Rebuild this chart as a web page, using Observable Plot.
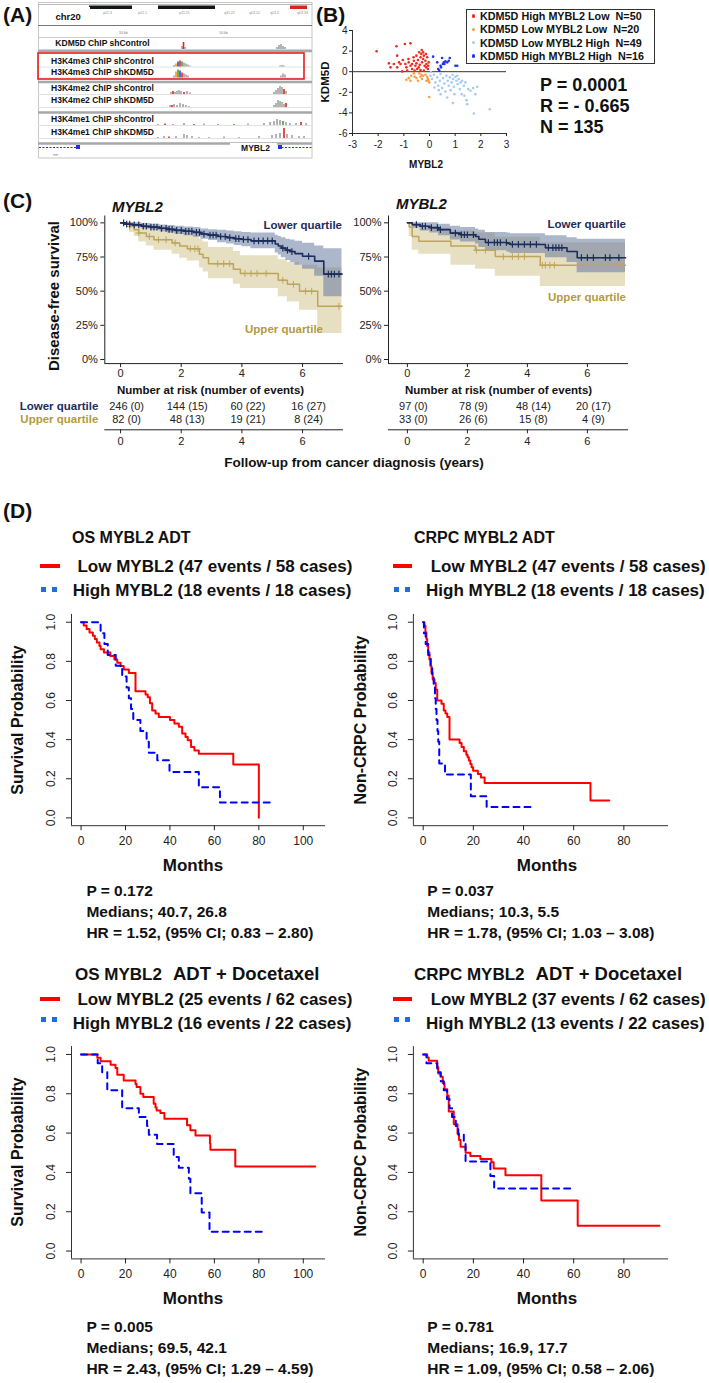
<!DOCTYPE html>
<html><head><meta charset="utf-8">
<script src="https://cdn.jsdelivr.net/npm/d3@7"></script>
<script src="https://cdn.jsdelivr.net/npm/@observablehq/plot@0.6"></script>
<style>
html,body{margin:0;padding:0;background:#fff;}
#root{position:relative;width:709px;height:1383px;overflow:hidden;background:#fff;font-family:"Liberation Sans",Arial,Helvetica,sans-serif;color:#111;}
.t{position:absolute;white-space:pre;line-height:1;}
</style></head><body><div id="root"></div>
<script>
// ---------------- DATA ----------------
// Panel A (genome browser tracks)
const aTracks = ["KDM5D ChIP shControl","H3K4me3 ChIP shControl","H3K4me3 ChIP shKDM5D","H3K4me2 ChIP shControl","H3K4me2 ChIP shKDM5D","H3K4me1 ChIP shControl","H3K4me1 ChIP shKDM5D"];
const aPeaks = [ // [track, position, height, colour key]
 [0,144,3,"k"],[0,145.5,7,"r"],[0,147,2,"k"],[0,239,2,"k"],[0,241,4,"k"],[0,243,5,"k"],[0,245,3,"k"],[0,247,2,"k"],
 [1,136,1.5,"k"],[1,138,3,"o"],[1,140,5,"b"],[1,142,6,"r"],[1,144,5,"g"],[1,146,4,"k"],[1,148,3,"k"],[1,150,2,"k"],[1,152,1,"k"],[1,242,1,"k"],[1,244,1.5,"k"],[1,246,1,"k"],
 [2,136,2,"k"],[2,138,6,"o"],[2,140,8,"g"],[2,142,7,"b"],[2,144,5,"r"],[2,146,4,"k"],[2,148,3,"k"],[2,150,2,"k"],[2,243,2,"k"],[2,245,4,"k"],[2,247,3,"k"],
 [3,133,2,"k"],[3,135,3,"r"],[3,137,2,"k"],[3,139,3,"k"],[3,141,4,"k"],[3,143,3,"k"],[3,146,2,"r"],[3,149,3,"k"],[3,152,1.5,"k"],[3,236,2,"k"],[3,238,4,"k"],[3,240,6,"k"],[3,242,8,"k"],[3,244,7,"k"],[3,246,5,"r"],[3,248,3,"k"],
 [4,132,2,"k"],[4,134,2,"r"],[4,136,3,"k"],[4,139,2,"k"],[4,142,4,"k"],[4,145,3,"k"],[4,148,2,"k"],[4,151,1,"k"],[4,236,2,"k"],[4,238,4,"k"],[4,240,7,"k"],[4,242,6,"k"],[4,244,5,"k"],[4,246,3,"k"],[4,248,4,"r"],
 [5,120,1,"k"],[5,127,1.5,"r"],[5,135,1,"k"],[5,146,2,"k"],[5,156,1,"r"],[5,166,1.5,"k"],[5,180,1,"k"],[5,196,1,"g"],[5,210,1.5,"k"],[5,226,2,"k"],[5,232,3,"k"],[5,236,4,"k"],[5,239,6,"k"],[5,242,5,"k"],[5,245,4,"g"],[5,248,3,"k"],[5,252,2,"k"],[5,258,2,"k"],[5,263,3,"r"],[5,268,2,"k"],
 [6,120,1,"k"],[6,126,2,"k"],[6,131,1.5,"r"],[6,138,2,"k"],[6,146,4,"k"],[6,149,3,"k"],[6,154,2,"k"],[6,161,1,"k"],[6,171,1,"k"],[6,186,1.5,"k"],[6,201,1,"k"],[6,221,2,"k"],[6,234,3,"k"],[6,238,4,"k"],[6,242,5,"k"],[6,246,10,"r"],[6,249,4,"k"],[6,254,3,"k"],[6,261,2,"k"],[6,266,2,"k"]
];
const aIdeoStart = [51,120,252], aIdeoEnd = [94,177,269], aIdeoKind = ["k","k","r"];
const aBands = ["p12.3","p12.1","p11.21","q11.22","q13.12","q13.2","q13.33"];
const aBandPos = [69,104,146,191,216,236,264];
const aGeneStart = [1,240], aGeneEnd = [42,274], aExonStart = [38,240], aExonEnd = [42,244];

// Panel B scatter (MYBL2 x, KDM5D y)
const bGroups = ["KDM5D High MYBL2 Low","KDM5D Low MYBL2 Low","KDM5D Low MYBL2 High","KDM5D High MYBL2 High"];
const bCounts = [50,20,49,16];
const bRedX = [-2.06,-1.29,-0.96,-0.74,-1.26,-1.58,-1.39,-1.13,-1.26,-1.06,-0.9,-0.81,-0.74,-0.68,-0.61,-0.55,-0.51,-0.45,-0.42,-0.38,-0.35,-0.32,-0.29,-0.25,-0.25,-0.22,-0.19,-0.16,-0.14,-0.12,-0.09,-0.06,-0.87,-0.68,-0.58,-0.48,-0.35,-0.94,-1.04,-0.51,-0.40,-0.30,-0.62,-0.82,-0.13,-0.03,-1.52,-1.19,-0.22,-0.05];
const bRedY = [1.98,2.47,2.69,2.76,1.56,0.81,0.75,0.75,0.42,0.03,0.42,0.91,0.58,0.75,1.07,0.58,0.81,1.14,0.42,0.68,1.4,1.72,0.91,1.23,1.88,1.56,0.58,1.07,1.72,0.75,1.4,0.26,0.1,0.26,0.1,0.26,0.16,0.75,1.14,1.56,1.88,2.1,1.4,1.23,0.42,0.91,0.42,0.91,0.1,0.58];
const bOrangeX = [-0.9,-0.81,-0.71,-0.58,-0.51,-0.35,-0.31,-0.29,-0.25,-0.40,-0.61,-0.09,-0.06,-0.04,-0.01,-0.12,-0.01,-0.16,-0.74,-0.45];
const bOrangeY = [-0.78,-0.62,-0.39,-0.49,-0.62,-0.49,-0.29,-0.71,-0.39,-0.16,-0.16,-0.49,-0.71,-0.88,-1.04,-0.88,-2.45,-0.29,-0.88,-0.88];
const bLightX = [0.04,0.10,0.17,0.23,0.30,0.34,0.40,0.43,0.49,0.53,0.58,0.62,0.66,0.71,0.75,0.79,0.82,0.86,0.90,0.92,0.95,0.97,1.01,1.05,1.08,1.10,1.14,1.18,1.21,1.27,1.34,1.36,1.40,1.44,1.47,1.51,1.70,1.73,1.79,1.86,2.35,0.91,0.36,0.69,0.19,1.25,0.43,1.60,0.06];
const bLightY = [-0.39,-0.71,-0.29,-1.04,-0.55,-1.36,-0.88,-0.23,-1.59,-0.62,-1.14,-1.92,-0.39,-0.88,-1.36,-0.55,-1.79,-1.04,-0.29,-0.71,-1.46,-2.18,-0.49,-0.88,-0.39,-1.2,-0.71,-1.69,-1.04,-0.88,-1.36,-2.34,-1.04,-2.76,-3.15,-1.69,-1.59,-4.06,-2.18,-1.46,-3.64,-3.05,-1.79,-2.5,-1.53,-2.18,-2.18,-1.85,-0.03];
const bBlueX = [0.14,0.30,0.34,0.38,0.45,0.49,0.52,0.56,0.58,0.62,0.69,0.75,0.79,1.01,1.08,0.43];
const bBlueY = [1.46,0.91,0.26,0.1,0.42,1.33,0.75,0.91,0.75,1.0,0.91,1.07,1.33,0.58,0.58,0.58];
const bXTicks = [-3,-2,-1,0,1,2,3], bYTicks = [-6,-4,-2,0,2,4];
const bStats = ["P = 0.0001","R = - 0.665","N = 135"];

// Panel C (disease-free survival, years)
const cXTicks = [0,2,4,6], cYTicks = [0,0.25,0.5,0.75,1];
const cLLowT  = [0,0.15,0.4,0.7,1.0,1.3,1.55,1.8,2.1,2.4,2.65,2.9,3.2,3.5,3.75,4.0,4.3,5.1,5.2,5.3,5.45,5.6,5.75,6.0,6.4,6.7,7.3];
const cLLowS  = [1,0.99,0.985,0.975,0.968,0.96,0.952,0.945,0.938,0.93,0.918,0.91,0.9,0.892,0.884,0.878,0.868,0.845,0.83,0.815,0.8,0.79,0.775,0.755,0.72,0.625,0.625];
const cLLowLo = [1,0.98,0.97,0.955,0.945,0.935,0.925,0.915,0.905,0.895,0.88,0.87,0.855,0.845,0.835,0.825,0.81,0.78,0.765,0.745,0.725,0.71,0.69,0.66,0.61,0.46,0.46];
const cLLowHi = [1,1,1,0.995,0.99,0.985,0.98,0.975,0.97,0.965,0.955,0.95,0.945,0.94,0.935,0.93,0.925,0.91,0.9,0.89,0.88,0.875,0.865,0.85,0.83,0.81,0.81];
const cLUpT   = [0,0.3,0.45,0.6,0.85,1.1,1.7,1.95,2.2,2.6,2.72,2.9,3.72,3.95,5.2,5.5,5.9,6.5,7.3];
const cLUpS   = [1,0.975,0.95,0.925,0.9,0.876,0.853,0.83,0.81,0.77,0.744,0.70,0.66,0.63,0.58,0.55,0.50,0.39,0.39];
const cLUpLo  = [1,0.93,0.9,0.86,0.83,0.8,0.77,0.74,0.72,0.67,0.64,0.59,0.55,0.52,0.46,0.42,0.36,0.19,0.19];
const cLUpHi  = [1,1,0.995,0.985,0.97,0.955,0.94,0.925,0.91,0.88,0.86,0.82,0.79,0.76,0.73,0.71,0.69,0.67,0.67];
const cLLowCens = [0.1,0.2,0.3,0.45,0.6,0.75,0.85,1.0,1.1,1.2,1.35,1.5,1.6,1.7,1.85,2.0,2.15,2.25,2.35,2.5,2.6,2.75,2.95,3.05,3.15,3.3,3.45,3.6,3.8,3.9,4.05,4.2,4.4,4.55,4.7,4.85,5.0,5.35,5.5,5.65,6.2,6.85,6.95,7.05,7.2];
const cLUpCens  = [0.3,0.6,0.95,1.25,1.5,1.8,2.3,2.45,2.55,3.2,3.4,3.6,4.1,4.3,4.5,4.8,5.35,5.7,6.1,6.3,7.2];
const cRLowT  = [0,0.16,0.43,0.75,1.04,1.43,1.77,2.27,2.38,2.6,3.32,3.43,4.6,5.32,5.66,7.27];
const cRLowS  = [1,0.987,0.975,0.965,0.95,0.925,0.913,0.9,0.88,0.856,0.85,0.842,0.818,0.79,0.745,0.745];
const cRLowLo = [1,0.96,0.94,0.925,0.905,0.875,0.86,0.845,0.82,0.795,0.785,0.775,0.745,0.71,0.635,0.635];
const cRLowHi = [1,1,1,1,0.99,0.975,0.965,0.955,0.945,0.93,0.925,0.92,0.905,0.89,0.88,0.88];
const cRUpT   = [0,0.06,0.16,0.38,1.45,2.27,2.93,4.43,7.27];
const cRUpS   = [1,0.97,0.9,0.866,0.83,0.8,0.753,0.69,0.69];
const cRUpLo  = [1,0.9,0.8,0.77,0.69,0.66,0.61,0.535,0.535];
const cRUpHi  = [1,1,0.98,0.96,0.94,0.925,0.895,0.855,0.855];
const cRLowCens = [0.3,0.5,0.6,0.8,1.0,1.1,1.6,1.8,1.9,2.0,2.2,2.7,2.9,3.0,3.1,3.3,3.5,3.7,3.9,4.1,4.3,4.7,4.85,4.95,5.05,5.15,5.8,6.0,6.2,6.6,6.75,7.05];
const cRUpCens  = [2.3,2.6,3.2,3.5,3.7,3.9,4.5,4.6,4.75,4.9,7.1];
const riskTimes = [0,2,4,6];
const riskRows = ["Lower quartile","Upper quartile"];
const cLLowN = [246,144,60,16], cLLowE = [0,15,22,27], cLUpN = [82,48,19,8], cLUpE = [0,13,21,24];
const cRLowN = [97,78,48,20],  cRLowE = [0,9,14,17],  cRUpN = [33,26,15,4], cRUpE = [0,6,8,9];

// Panel D (Kaplan–Meier, months)
const dTitleA = ["OS MYBL2 ADT","CRPC MYBL2 ADT","OS MYBL2","CRPC MYBL2"];
const dTitleB = ["","","ADT + Docetaxel","ADT + Docetaxel"];
const dYLab = ["Survival Probability","Non-CRPC Probability","Survival Probability","Non-CRPC Probability"];
const dLowEvents = [47,47,25,37], dLowCases = [58,58,62,62], dHighEvents = [18,18,16,13], dHighCases = [18,18,22,22];
const dP = ["0.172","0.037","0.005","0.781"];
const dMed = ["40.7, 26.8","10.3, 5.5","69.5, 42.1","16.9, 17.7"];
const dHR = ["1.52, (95% CI; 0.83 \u2013 2.80)","1.78, (95% CI; 1.03 \u2013 3.08)","2.43, (95% CI; 1.29 \u2013 4.59)","1.09, (95% CI; 0.58 \u2013 2.06)"];
const dYTicks = [0,0.2,0.4,0.6,0.8,1.0];
const dXTicksOS = [0,20,40,60,80,100], dXTicksCRPC = [0,20,40,60,80];
const osAdtLowT  = [0,1.2,2.5,3.8,5.3,6.2,7.1,8.3,8.8,10.3,13.2,15,16.3,17.8,19.2,21.5,24.5,29,30,31,32,33.5,35,40,42,44,45.5,47,48,49.5,51,53,68.5,80];
const osAdtLowS  = [1,0.983,0.966,0.948,0.931,0.914,0.897,0.879,0.862,0.845,0.828,0.81,0.793,0.776,0.759,0.741,0.647,0.63,0.616,0.586,0.549,0.534,0.515,0.5,0.483,0.466,0.431,0.414,0.397,0.362,0.345,0.328,0.273,0];
const osAdtHighT = [0,8.8,10.5,12,15.6,18.5,20.5,21.5,22.5,23.5,26.7,29.5,30.5,34.3,39.8,53,62.5,85.5];
const osAdtHighS = [1,0.944,0.889,0.833,0.778,0.722,0.667,0.611,0.556,0.5,0.444,0.389,0.333,0.294,0.235,0.157,0.078,0.078];
const crAdtLowT  = [0,0.5,0.9,1.3,1.6,2.0,2.5,2.9,3.3,3.8,4.5,5.0,5.6,7.3,8.2,8.9,9.6,10.5,14.5,15.3,16.2,17.2,17.7,18.2,18.8,19.3,19.9,21.8,23,24.5,66.7,74.2];
const crAdtLowS  = [1,0.983,0.948,0.914,0.879,0.845,0.81,0.776,0.741,0.707,0.69,0.655,0.6,0.583,0.549,0.534,0.515,0.4,0.383,0.362,0.34,0.323,0.31,0.293,0.276,0.259,0.241,0.224,0.207,0.178,0.089,0.089];
const crAdtHighT = [0,0.3,1.0,2.0,3.0,3.6,4.2,4.7,5.0,5.3,5.7,6.0,6.4,8.7,19,25.3,43.8];
const crAdtHighS = [1,0.944,0.889,0.833,0.778,0.722,0.667,0.611,0.556,0.5,0.444,0.389,0.278,0.222,0.111,0.056,0.056];
const osDocLowT  = [0,7.3,8.8,13.3,15.5,16.3,19.2,24.5,25,26.7,28,32.7,33.5,34,35.7,37.5,47.7,49.2,51.5,58,58.2,69.4,105.4];
const osDocLowS  = [1,0.983,0.966,0.948,0.931,0.897,0.868,0.85,0.834,0.8,0.783,0.749,0.73,0.715,0.702,0.673,0.64,0.614,0.588,0.546,0.515,0.43,0.43];
const osDocHighT = [0,7.5,9.5,11.8,18.5,26,29.7,30.5,34.2,41.7,44,48.5,49.2,54.3,57.8,81.3];
const osDocHighS = [1,0.955,0.909,0.818,0.727,0.682,0.636,0.591,0.545,0.479,0.424,0.368,0.294,0.196,0.098,0.098];
const crDocLowT  = [0,1.6,2.2,5.6,6.0,6.9,7.8,8.5,9.6,10.2,12.2,13.7,14.3,14.9,16.9,18.8,22.8,27.2,28.1,32.8,47.1,61.6,94.2];
const crDocLowS  = [1,0.984,0.968,0.935,0.903,0.887,0.855,0.823,0.79,0.71,0.645,0.597,0.565,0.53,0.5,0.484,0.468,0.452,0.42,0.386,0.257,0.129,0.129];
const crDocHighT = [0,1.3,5.6,7.0,8.2,9.5,10.5,11.5,13,14,16.2,16.9,26.8,28.3,60.1];
const crDocHighS = [1,0.955,0.909,0.864,0.818,0.773,0.727,0.682,0.636,0.591,0.545,0.455,0.382,0.318,0.318];

// ---------------- HELPERS ----------------
const FONT = '"Liberation Sans", Arial, Helvetica, sans-serif';
const root = document.getElementById("root");
const idx = a => d3.range(a.length);
const stepAt = (t, s, x) => { let v = s[0]; for (let i = 0; i < t.length; i++) if (t[i] <= x) v = s[i]; return v; };
function T(s, x, y, o = {}) {
  const d = document.createElement("div");
  d.className = "t"; d.textContent = s;
  d.style.left = x + "px"; d.style.top = y + "px";
  d.style.fontSize = (o.size || 12) + "px";
  d.style.fontWeight = o.weight || "bold";
  if (o.italic) d.style.fontStyle = "italic";
  d.style.color = o.color || "#111";
  const ax = o.anchor === "middle" ? "-50%" : o.anchor === "end" ? "-100%" : "0";
  d.style.transform = `translate(${ax},-50%)` + (o.rotate ? ` rotate(${o.rotate}deg)` : "");
  root.appendChild(d); return d;
}
function R(x, y, w, h, color, extra = "") {
  const d = document.createElement("div");
  d.style.cssText = `position:absolute;left:${x}px;top:${y}px;width:${w}px;height:${h}px;background:${color};${extra}`;
  root.appendChild(d); return d;
}
function P(opts, left, top, fs = 12) {
  const svg = Plot.plot({...opts, style: {fontFamily: FONT, fontSize: fs + "px", color: "#222", background: "transparent", overflow: "visible"}});
  svg.style.position = "absolute"; svg.style.left = left + "px"; svg.style.top = top + "px";
  root.appendChild(svg); return svg;
}
const plain = d => String(d);

// ---------------- PANEL LABELS ----------------
T("(A)", 3, 14, {size: 21}); T("(B)", 316, 14, {size: 21});
T("(C)", 3, 200, {size: 21}); T("(D)", 3, 510, {size: 21});

// ---------------- PANEL A ----------------
const aCol = {k: "#a2a2a2", r: "#e3241c", g: "#3aa53a", b: "#3646d8", o: "#f09a1a"};
const aLabelY = [41, 59, 70, 86, 98, 117, 130];
const aBaseY = [47, 64.5, 75.5, 92, 105, 123, 136];
P({
  width: 276, height: 158, margin: 0,
  x: {domain: [0, 276], range: [0, 276], axis: null},
  y: {domain: [0, 158], range: [0, 158], axis: null},
  marks: [
    Plot.rect([0], {x1: 0.5, x2: 274, y1: 0.5, y2: 156, stroke: "#c8c8c8", fill: "white"}),
    Plot.ruleY([2], {x1: 0, x2: 274, stroke: "#bbb"}),
    Plot.rect(idx(aIdeoStart), {x1: i => aIdeoStart[i], x2: i => aIdeoEnd[i], y1: 3.5, y2: 7, fill: i => aIdeoKind[i] === "r" ? "#d8261c" : "#161616"}),
    Plot.text(aBands, {x: (d, i) => aBandPos[i], y: 10, fontSize: 3.5, fill: "#888", fontWeight: "normal"}),
    Plot.rect([0], {x1: 5, x2: 52, y1: 5, y2: 21, fill: "white"}),
    Plot.text(["chr20"], {x: 17, y: 14, textAnchor: "start", fontSize: 9.5, fontWeight: "bold", fill: "#111"}),
    Plot.ruleY([23], {x1: 0, x2: 274, stroke: "#777"}),
    Plot.ruleY([35], {x1: 0, x2: 274, stroke: "#ccc"}),
    Plot.text(["50 kb", "50 kb"], {x: (d, i) => [85, 185][i], y: 30, fontSize: 3.5, fill: "#777", fontWeight: "normal"}),
    Plot.ruleY(aBaseY, {x1: 0, x2: 274, stroke: "#e2e2e2"}),
    Plot.ruleY([48.5, 79.5, 110, 141], {x1: 0, x2: 274, stroke: "#a8a8a8", strokeWidth: 2.5}),
    Plot.rect(aPeaks, {x1: d => d[1] - 0.8, x2: d => d[1] + 0.8, y1: d => aBaseY[d[0]] - d[2], y2: d => aBaseY[d[0]], fill: d => aCol[d[3]]}),
    Plot.text(aTracks, {x: 64, y: (d, i) => aLabelY[i], fontSize: 8.5, fontWeight: "bold", fill: "#111"}),
    Plot.rect([0], {x1: 0, x2: 266, y1: 51, y2: 77, stroke: "#e8201c", strokeWidth: 1.6, fill: "none"}),
    Plot.ruleY(idx(aGeneStart), {y: 145, x1: i => aGeneStart[i], x2: i => aGeneEnd[i], stroke: "#2433d8", strokeDasharray: "2,1.5"}),
    Plot.rect(idx(aExonStart), {x1: i => aExonStart[i], x2: i => aExonEnd[i], y1: 143, y2: 147, fill: "#2433d8"}),
    Plot.rect([0], {x1: 192, x2: 239, y1: 141, y2: 151, fill: "white"}),
    Plot.text(["MYBL2"], {x: 217, y: 146, fontSize: 8.5, fontWeight: "bold", fill: "#111"}),
    Plot.text(["nm"], {x: 17, y: 152, fontSize: 3.5, fill: "#777", fontWeight: "normal"})
  ]
}, 38, 2, 9);

// ---------------- PANEL B ----------------
const bColors = ["#ef2a1d", "#f5a044", "#a6cbf0", "#1d33ee"];
const bSets = [[bRedX, bRedY], [bOrangeX, bOrangeY], [bLightX, bLightY], [bBlueX, bBlueY]];
P({
  width: 200, height: 170, marginLeft: 32, marginRight: 14, marginTop: 30, marginBottom: 37,
  x: {domain: [bXTicks[0], bXTicks[bXTicks.length - 1]]},
  y: {domain: [bYTicks[0], bYTicks[bYTicks.length - 1]]},
  marks: [
    Plot.ruleX([bXTicks[0]], {stroke: "#333"}),
    Plot.ruleY([bYTicks[0]], {stroke: "#333"}),
    Plot.ruleY([0], {stroke: "#333"}),
    ...bSets.map((s, g) => Plot.dot(idx(s[0]), {x: i => s[0][i], y: i => s[1][i], r: 1.3, fill: bColors[g], stroke: "none"})),
    Plot.axisX({ticks: bXTicks, tickFormat: plain, tickSize: 3, tickPadding: 4, label: null}),
    Plot.axisY({ticks: bYTicks, tickFormat: plain, tickSize: 3, tickPadding: 2, label: null})
  ]
}, 320, 0, 10);
T("KDM5D", 326, 82, {size: 11.5, rotate: -90, anchor: "middle"});
T("MYBL2", 426, 165, {size: 10, anchor: "middle"});
R(466, 9, 187, 53, "transparent", "border:1px solid #333;");
bGroups.forEach((g, i) => {
  R(471.5, 16 + i * 13.3 - 1.7, 3.4, 3.4, bColors[i], "border-radius:50%;");
  T(`${g}  N=${bCounts[i]}`, 480, 16 + i * 13.3, {size: 10.8});
});
bStats.forEach((s, i) => T(s, 540, 85 + i * 21, {size: 18}));

// ---------------- PANEL C ----------------
const NAVY = "#1c2d5c", KHAKI = "#bda55a";
const cY = [-0.03, 1.05];
function cMarks(xDom, L, U, lowCens, upCens) {
  return [
    Plot.areaY(idx(U.t), {x: i => U.t[i], y1: i => U.lo[i], y2: i => U.hi[i], curve: "step-after", fill: "#c8b878", fillOpacity: 0.45}),
    Plot.areaY(idx(L.t), {x: i => L.t[i], y1: i => L.lo[i], y2: i => L.hi[i], curve: "step-after", fill: "#5b6f99", fillOpacity: 0.5}),
    Plot.ruleX([xDom[0]], {stroke: "#222"}),
    Plot.ruleY([cY[0]], {stroke: "#222"}),
    Plot.axisY({ticks: cYTicks, tickFormat: d => Math.round(d * 100) + "%", tickSize: 4, tickPadding: 3, label: null}),
    Plot.axisX({ticks: cXTicks, tickFormat: plain, tickSize: 4, tickPadding: 2, label: null}),
    Plot.line(idx(U.t), {x: i => U.t[i], y: i => U.s[i], curve: "step-after", stroke: KHAKI, strokeWidth: 1.5}),
    Plot.dot(upCens, {x: d => d, y: d => stepAt(U.t, U.s, d), symbol: "plus", r: 2.3, stroke: KHAKI, strokeWidth: 1}),
    Plot.line(idx(L.t), {x: i => L.t[i], y: i => L.s[i], curve: "step-after", stroke: NAVY, strokeWidth: 1.6}),
    Plot.dot(lowCens, {x: d => d, y: d => stepAt(L.t, L.s, d), symbol: "plus", r: 2.3, stroke: NAVY, strokeWidth: 1.2})
  ];
}
const cLDom = [-0.52, 7.35], cRDom = [-0.63, 7.37];
P({width: 290, height: 200, marginLeft: 44.3, marginRight: 7, marginTop: 20.5, marginBottom: 31.9,
  x: {domain: cLDom}, y: {domain: cY},
  marks: cMarks(cLDom, {t: cLLowT, s: cLLowS, lo: cLLowLo, hi: cLLowHi}, {t: cLUpT, s: cLUpS, lo: cLUpLo, hi: cLUpHi}, cLLowCens, cLUpCens)
}, 60, 195, 11);
P({width: 290, height: 200, marginLeft: 42, marginRight: 8, marginTop: 20.5, marginBottom: 31.9,
  x: {domain: cRDom}, y: {domain: cY},
  marks: cMarks(cRDom, {t: cRLowT, s: cRLowS, lo: cRLowLo, hi: cRLowHi}, {t: cRUpT, s: cRUpS, lo: cRUpLo, hi: cRUpHi}, cRLowCens, cRUpCens)
}, 346, 195, 11);
T("MYBL2", 112, 206, {size: 15, italic: true});
T("MYBL2", 396, 203, {size: 15, italic: true});
T("Disease-free survival", 52.5, 296, {size: 15, rotate: -90, anchor: "middle"});
T("Lower quartile", 342, 226, {size: 11.5, anchor: "end", color: NAVY});
T("Upper quartile", 323, 330, {size: 11.5, anchor: "end", color: "#b39b3e"});
T("Lower quartile", 626, 225, {size: 11.5, anchor: "end", color: NAVY});
T("Upper quartile", 626, 298, {size: 11.5, anchor: "end", color: "#b39b3e"});

function riskTable(xDom, mL, mR, lowN, lowE, upN, upE, withLabels) {
  const rows = [];
  riskTimes.forEach((t, i) => {
    rows.push({t, row: riskRows[0], txt: `${lowN[i]} (${lowE[i]})`});
    rows.push({t, row: riskRows[1], txt: `${upN[i]} (${upE[i]})`});
  });
  const marks = [
    Plot.ruleY([riskRows[1]], {dy: 10.3, stroke: "#222"}),
    Plot.axisX({ticks: cXTicks, tickFormat: plain, tickSize: 4, tickPadding: 3, label: null}),
    Plot.text(rows, {x: "t", y: "row", text: "txt", dx: 6, fill: "#222", fontSize: 11})
  ];
  if (withLabels) marks.push(Plot.text(riskRows, {x: xDom[0], y: d => d, text: d => d, textAnchor: "end", dx: -6.5, fontWeight: "bold", fontSize: 11.5, fill: d => d === riskRows[0] ? NAVY : "#b39b3e"}));
  return {width: 290, height: 56, marginLeft: mL, marginRight: mR, marginTop: 0, marginBottom: 24.7,
    x: {domain: xDom}, y: {type: "point", domain: riskRows, range: [8, 21], padding: 0, axis: null}, marks};
}
P(riskTable(cLDom, 44.3, 7, cLLowN, cLLowE, cLUpN, cLUpE, true), 60, 398, 11);
P(riskTable(cRDom, 42, 8, cRLowN, cRLowE, cRUpN, cRUpE, false), 346, 398, 11);
T("Number at risk (number of events)", 210.5, 391, {size: 11.5, anchor: "middle"});
T("Number at risk (number of events)", 498.5, 391, {size: 11.5, anchor: "middle"});
T("Follow-up from cancer diagnosis (years)", 354, 463, {size: 13.5, anchor: "middle"});

// ---------------- PANEL D ----------------
const RED = "#ff0000", BLUE = "#0000ff", LEGBLUE = "#1f6fd9";
const dY = [-0.04, 1.04];
function kmPlot(xDom, xTicks, lowT, lowS, highT, highS) {
  return [
    Plot.ruleX([xDom[0]], {stroke: "#333"}),
    Plot.ruleY([dY[0]], {stroke: "#333"}),
    Plot.axisX({ticks: xTicks, tickFormat: plain, tickSize: 5, tickPadding: 6, label: null}),
    Plot.axisY({ticks: dYTicks, tickSize: 5, tickFormat: () => "", label: null}),
    Plot.text(dYTicks, {x: xDom[0], y: d => d, text: d => d.toFixed(1), rotate: -90, dx: -20.5, fill: "#222", fontSize: 12}),
    Plot.line(idx(lowT), {x: i => lowT[i], y: i => lowS[i], curve: "step-after", stroke: RED, strokeWidth: 2}),
    Plot.line(idx(highT), {x: i => highT[i], y: i => highS[i], curve: "step-after", stroke: BLUE, strokeWidth: 2, strokeDasharray: "6,5"})
  ];
}
const dOSDom = [-4.3, 110], dCRDom = [-3.9, 97.8];
const dCurves = [
  [osAdtLowT, osAdtLowS, osAdtHighT, osAdtHighS],
  [crAdtLowT, crAdtLowS, crAdtHighT, crAdtHighS],
  [osDocLowT, osDocLowS, osDocHighT, osDocHighS],
  [crDocLowT, crDocLowS, crDocHighT, crDocHighS]
];
const dGeo = [ // left, top, width, mL, mR, mT, mB, domain, ticks
  [0, 600, 340, 71, 15, 13.9, 34.8, dOSDom, dXTicksOS],
  [354, 600, 355, 58.9, 41, 13.9, 34.8, dCRDom, dXTicksCRPC],
  [0, 1033, 340, 71, 15, 13.1, 34.6, dOSDom, dXTicksOS],
  [354, 1033, 355, 58.9, 41, 13.1, 34.6, dCRDom, dXTicksCRPC]
];
dGeo.forEach((g, k) => {
  const c = dCurves[k];
  P({width: g[2], height: 260, marginLeft: g[3], marginRight: g[4], marginTop: g[5], marginBottom: g[6],
    x: {domain: g[7]}, y: {domain: dY}, marks: kmPlot(g[7], g[8], c[0], c[1], c[2], c[3])}, g[0], g[1], 12);
});
// text layout per panel: [titleX, titleY, legX, legY1, legY2, blueY, textX, statX, statY, monthsX, monthsY, ylabX, ylabY]
const dTxt = [
  [72, 538, 40, 565.7, 590, 589.5, 72.7, 86.4, 891, 193, 865, 18, 719.5],
  [414, 538, 392.7, 565.7, 590, 589.5, 426, 427.3, 891, 547, 865, 361, 719.5],
  [75, 974.3, 40, 999, 1023.3, 1019.5, 72.7, 86.4, 1326.7, 193, 1297.7, 18, 1152],
  [414, 974.3, 392.7, 999, 1023.3, 1019.5, 426, 427.3, 1326.7, 547, 1297.7, 361, 1152]
];
dTxt.forEach((p, k) => {
  if (dTitleB[k]) {
    const a = T(dTitleA[k], p[0], p[1], {size: 17});
    T(dTitleB[k], p[0] + a.getBoundingClientRect().width + 11, p[1], {size: 18.5});
  } else {
    T(dTitleA[k], p[0], p[1], {size: 16});
  }
  R(p[2], p[3] - 2, 19.5, 4.2, RED);
  R(p[2] + 0.8, p[5] - 2.2, 5.6, 4.4, LEGBLUE);
  R(p[2] + 11.8, p[5] - 2.2, 5.6, 4.4, LEGBLUE);
  T(` Low MYBL2 (${dLowEvents[k]} events / ${dLowCases[k]} cases)`, p[6], p[3], {size: 17});
  T(`High MYBL2 (${dHighEvents[k]} events / ${dHighCases[k]} cases)`, p[6], p[4], {size: 17});
  T(`P = ${dP[k]}`, p[7], p[8], {size: 15.5});
  T(`Medians; ${dMed[k]}`, p[7], p[8] + 21, {size: 15.5});
  T(`HR = ${dHR[k]}`, p[7], p[8] + 42, {size: 15.5});
  T("Months", p[9], p[10], {size: 17, anchor: "middle"});
  T(dYLab[k], p[11], p[12], {size: 16, rotate: -90, anchor: "middle"});
});
</script></body></html>
